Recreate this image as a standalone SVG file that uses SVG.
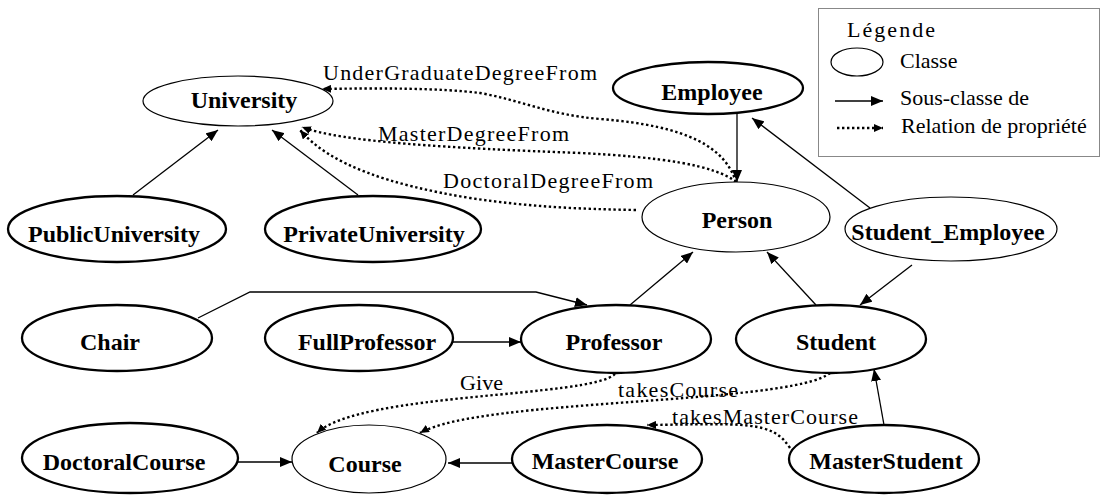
<svg xmlns="http://www.w3.org/2000/svg" width="1103" height="496" viewBox="0 0 1103 496">
<style>
.n ellipse{fill:#fff;stroke:#000;stroke-width:2.3}
.n.thin ellipse{stroke-width:1.2}
.n text{font-family:"Liberation Serif","Times New Roman",serif;font-weight:bold;font-size:24px;text-anchor:middle;fill:#000}
.lbl{font-family:"Liberation Serif","Times New Roman",serif;font-size:22px;fill:#000}
.sub{fill:none;stroke:#000;stroke-width:1.3;marker-end:url(#a)}
.prop{fill:none;stroke:#000;stroke-width:2.4;stroke-dasharray:2.4 2.6;marker-end:url(#d)}
</style>
<defs>
<marker id="a" markerUnits="userSpaceOnUse" markerWidth="12" markerHeight="10" refX="12" refY="5" orient="auto"><path d="M0,0 L12,5 L0,10 z" fill="#000"/></marker>
<marker id="d" markerUnits="userSpaceOnUse" markerWidth="9" markerHeight="8" refX="9" refY="4" orient="auto"><path d="M0,0 L9,4 L0,8 z" fill="#000"/></marker>
</defs>
<rect width="1103" height="496" fill="#fff"/>

<g id="connectors">
<path class="sub" d="M133,195 L218,130"/>
<path class="sub" d="M358,195 L272,130"/>
<path class="sub" d="M737,114 L737,182"/>
<path class="sub" d="M870,208 L752,118"/>
<path class="sub" d="M630,305 L693,252"/>
<path class="sub" d="M816,305 L767,252"/>
<path class="sub" d="M912,265 L860,305"/>
<path class="sub" d="M198,318 L250,292 L536,292 L587,305"/>
<path class="sub" d="M453,342 L521,342"/>
<path class="sub" d="M884,425 L874,369"/>
<path class="sub" d="M238,462 L292,462"/>
<path class="sub" d="M513,463 L448,463"/>
<path class="prop" d="M736,182 C725,148 690,126 600,119 C550,115 520,100 480,93 C440,88 380,88 322,89"/>
<path class="prop" d="M736,182 C715,165 660,157 580,153 C450,148 340,142 302,127"/>
<path class="prop" d="M636,210 C580,209 530,207 470,198 C390,185 330,165 300,130"/>
<path class="prop" d="M615,374 C590,398 360,392 317,433"/>
<path class="prop" d="M830,373 C790,405 480,398 420,433"/>
<path class="prop" d="M790,448 C772,420 745,424 647,425"/>
<text class="lbl" x="323" y="80" textLength="274" lengthAdjust="spacing">UnderGraduateDegreeFrom</text>
<text class="lbl" x="378" y="141" textLength="191" lengthAdjust="spacing">MasterDegreeFrom</text>
<text class="lbl" x="443" y="188" textLength="210" lengthAdjust="spacing">DoctoralDegreeFrom</text>
<text class="lbl" x="460" y="390" textLength="43" lengthAdjust="spacing">Give</text>
<text class="lbl" x="618" y="397" textLength="120" lengthAdjust="spacing">takesCourse</text>
<text class="lbl" x="672" y="424" textLength="186" lengthAdjust="spacing">takesMasterCourse</text>
</g>

<g id="University" class="n thin"><ellipse cx="238" cy="101" rx="95" ry="25"/><text x="244" y="108">University</text></g>
<g id="Employee" class="n"><ellipse cx="708" cy="88" rx="95" ry="26"/><text x="712" y="100">Employee</text></g>
<g id="PublicUniversity" class="n"><ellipse cx="117" cy="229" rx="109" ry="33"/><text x="114" y="242">PublicUniversity</text></g>
<g id="PrivateUniversity" class="n"><ellipse cx="373" cy="229" rx="108" ry="33"/><text x="374" y="242">PrivateUniversity</text></g>
<g id="Person" class="n thin"><ellipse cx="736" cy="217" rx="94" ry="35"/><text x="737" y="228">Person</text></g>
<g id="Student_Employee" class="n thin"><ellipse cx="951" cy="229" rx="106" ry="32"/><text x="948" y="240">Student_Employee</text></g>
<g id="Chair" class="n"><ellipse cx="117" cy="338" rx="95" ry="33"/><text x="110" y="350">Chair</text></g>
<g id="FullProfessor" class="n"><ellipse cx="359" cy="338" rx="94" ry="33"/><text x="367" y="350">FullProfessor</text></g>
<g id="Professor" class="n"><ellipse cx="616" cy="339" rx="95" ry="34"/><text x="614" y="350">Professor</text></g>
<g id="Student" class="n"><ellipse cx="831" cy="339" rx="95" ry="34"/><text x="836" y="350">Student</text></g>
<g id="DoctoralCourse" class="n"><ellipse cx="130" cy="458" rx="108" ry="35"/><text x="124" y="470">DoctoralCourse</text></g>
<g id="Course" class="n thin"><ellipse cx="369" cy="459" rx="77" ry="34"/><text x="365" y="472">Course</text></g>
<g id="MasterCourse" class="n"><ellipse cx="607" cy="459" rx="95" ry="34"/><text x="605" y="469">MasterCourse</text></g>
<g id="MasterStudent" class="n"><ellipse cx="884" cy="459" rx="95" ry="34"/><text x="886" y="469">MasterStudent</text></g>

<g id="legend">
<rect x="818.5" y="8.5" width="281" height="148" fill="#fff" stroke="#888" stroke-width="1"/>
<text class="lbl" x="847" y="37" textLength="88" lengthAdjust="spacing">Légende</text>
<ellipse cx="857" cy="62" rx="26" ry="14" fill="#fff" stroke="#000" stroke-width="1.2"/>
<text class="lbl" x="900" y="68">Classe</text>
<path class="sub" d="M835,101 L883,101"/>
<text class="lbl" x="900" y="105">Sous-classe de</text>
<path class="prop" d="M837,128 L883,128"/>
<text class="lbl" x="901" y="133">Relation de propriété</text>
</g>
</svg>
